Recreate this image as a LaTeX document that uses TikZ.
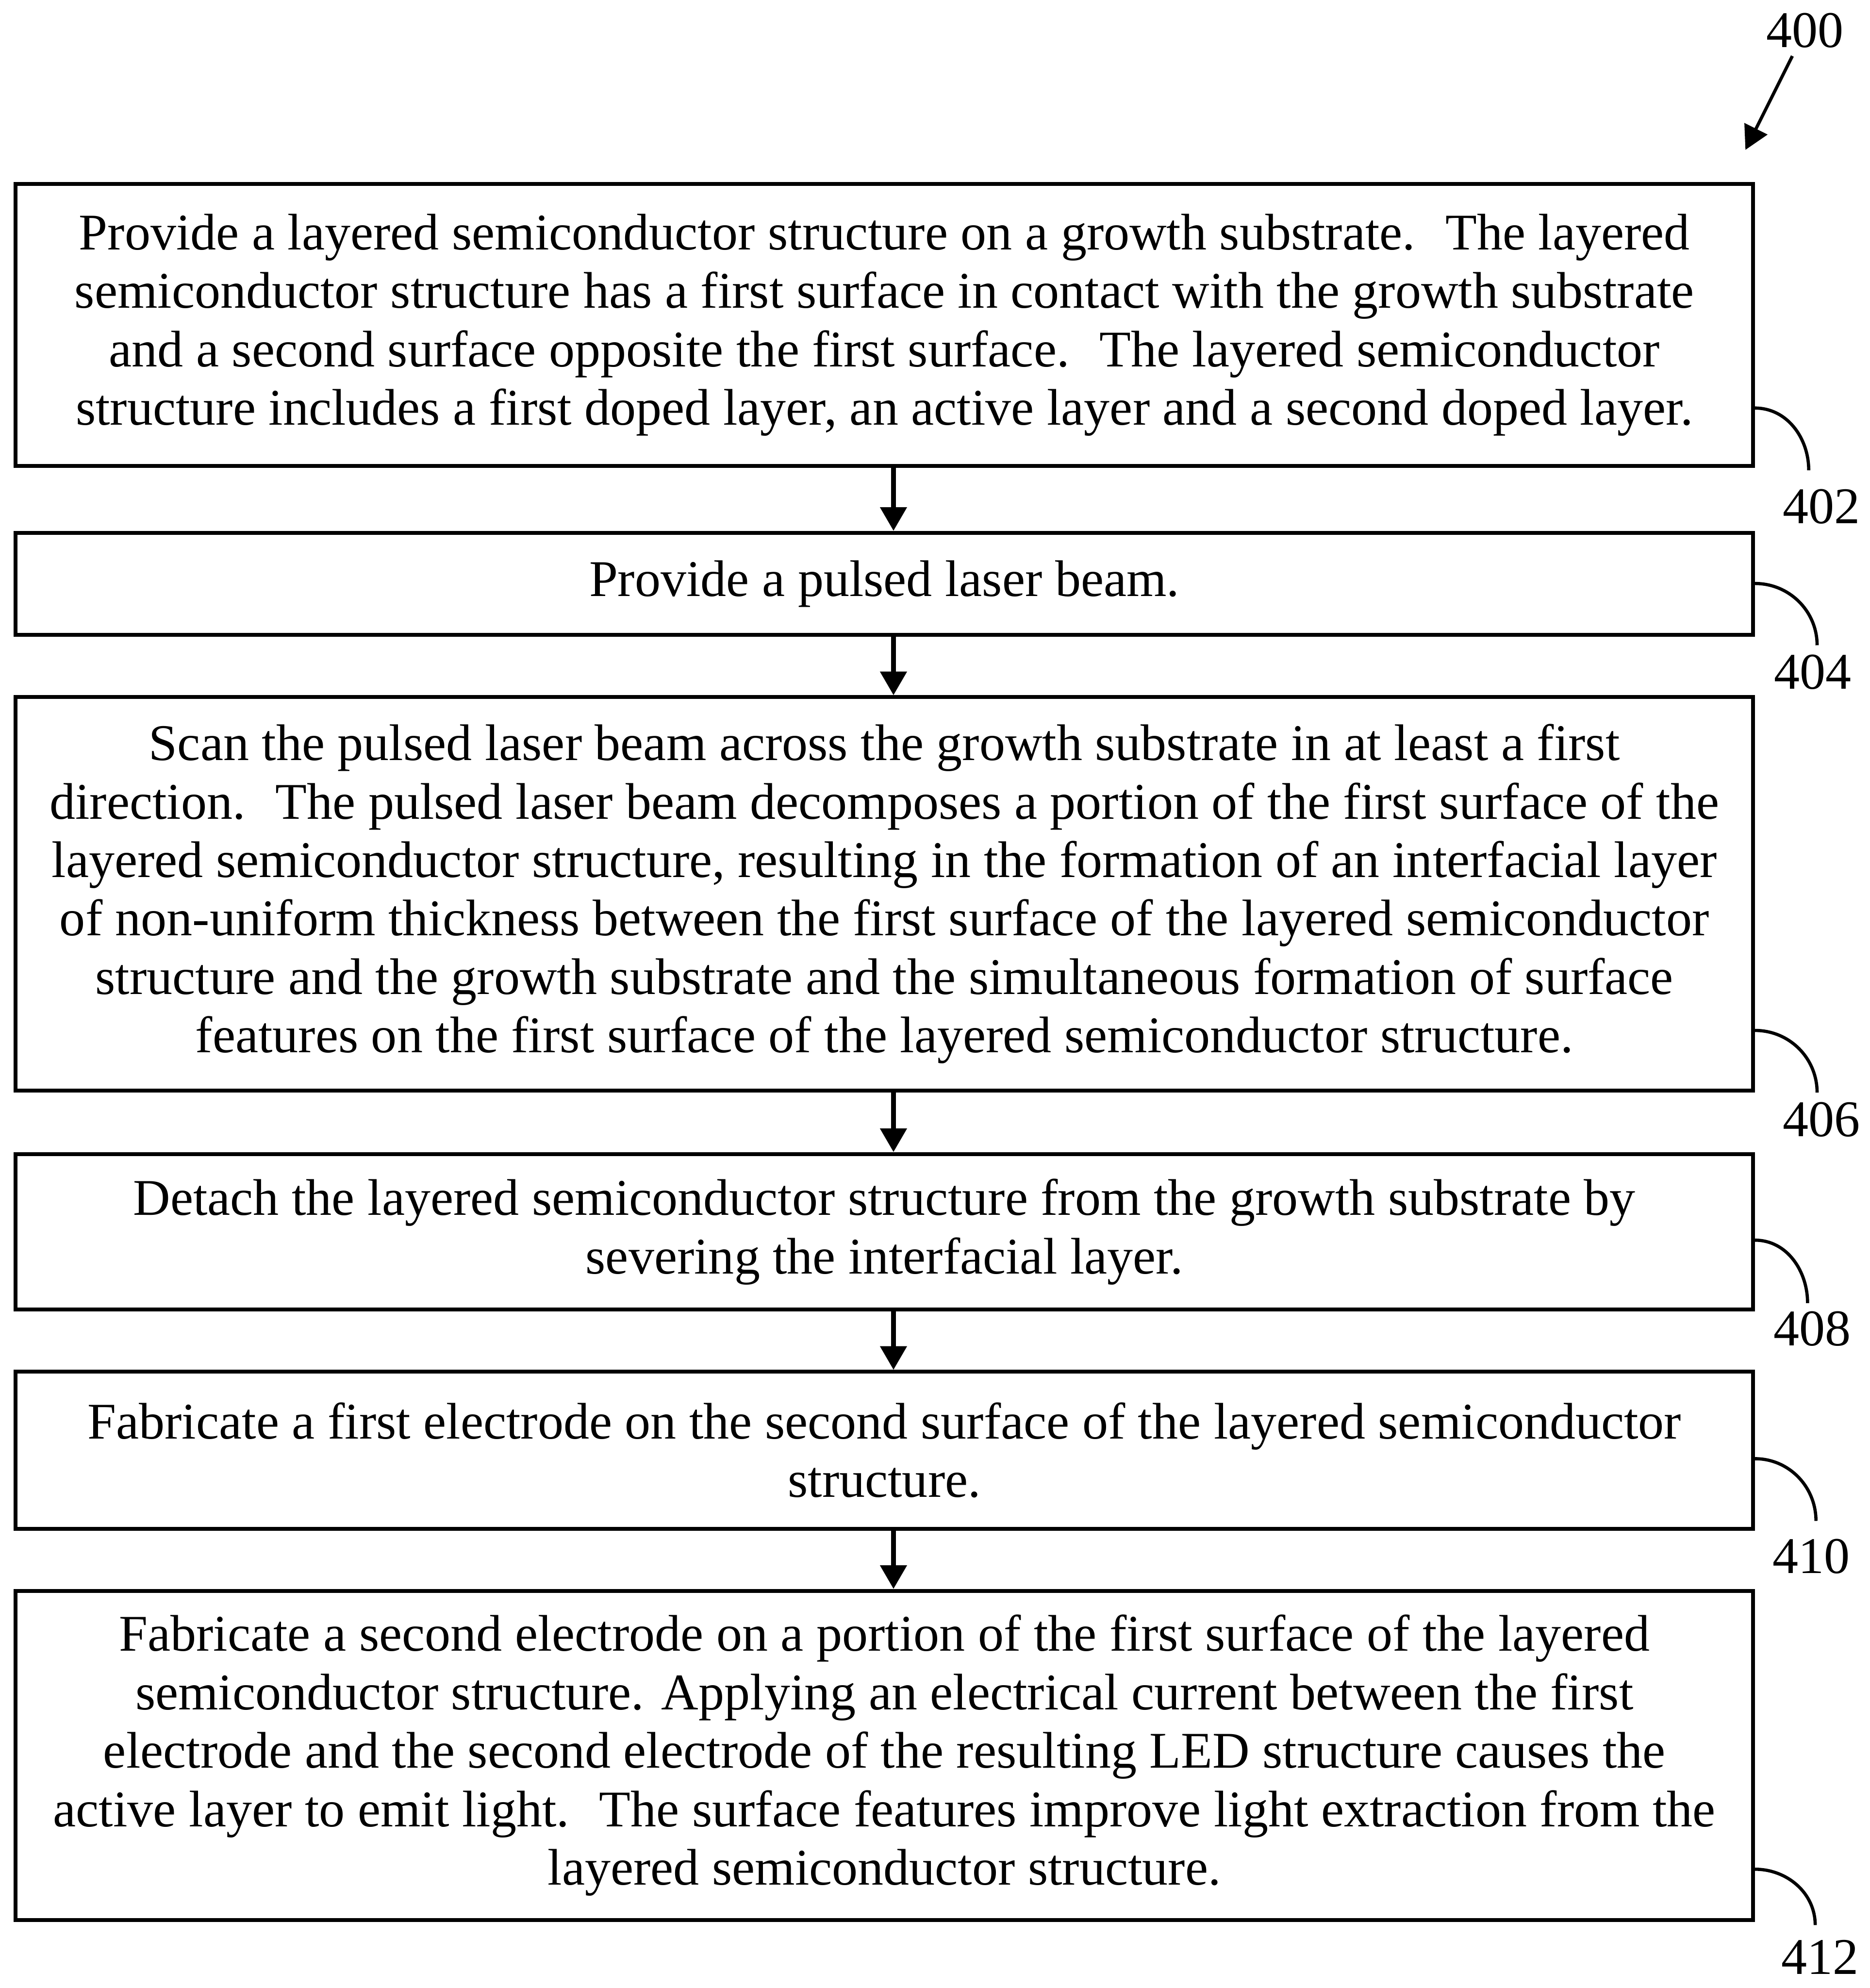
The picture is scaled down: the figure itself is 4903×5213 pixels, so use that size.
\documentclass[tikz,border=0pt]{standalone}
\usepackage{fontspec}
\setmainfont{Liberation Serif}
\usetikzlibrary{arrows.meta}

\tikzset{
  stepbox/.style={draw, line width=0.5mm, minimum width=227.8mm, align=center,
    inner sep=0pt, font=\fontsize{19.2}{21.8}\selectfont},
  flow/.style={line width=0.6mm, -{Triangle[width=3.4mm,length=3.1mm]}},
  leader/.style={line width=0.42mm},
  refnum/.style={inner sep=0pt, font=\fontsize{19.2}{21.8}\selectfont}
}

\begin{document}
\begin{tikzpicture}[x=0.05mm, y=-0.05mm]
\useasboundingbox (0,0) rectangle (4903,5213);

% the six process steps
\node[stepbox, minimum height=37mm] (provide) at (2319,852)
  {Provide a layered semiconductor structure on a growth substrate.~ The layered\\
   semiconductor structure has a first surface in contact with the growth substrate\\
   and a second surface opposite the first surface.~ The layered semiconductor\\
   structure includes a first doped layer, an active layer and a second doped layer.};
\node[stepbox, minimum height=13.4mm] (laser) at (2319,1531)
  {Provide a pulsed laser beam.};
\node[stepbox, minimum height=51.6mm] (scan) at (2319,2344)
  {Scan the pulsed laser beam across the growth substrate in at least a first\\
   direction.~ The pulsed laser beam decomposes a portion of the first surface of the\\
   layered semiconductor structure, resulting in the formation of an interfacial layer\\
   of non-uniform thickness between the first surface of the layered semiconductor\\
   structure and the growth substrate and the simultaneous formation of surface\\
   features on the first surface of the layered semiconductor structure.};
\node[stepbox, minimum height=20.4mm] (detach) at (2319,3230)
  {Detach the layered semiconductor structure from the growth substrate by\\
   severing the interfacial layer.};
\node[stepbox, minimum height=20.6mm] (elecone) at (2319,3803)
  {Fabricate a first electrode on the second surface of the layered semiconductor\\
   structure.};
\node[stepbox, minimum height=43.15mm] (electwo) at (2319,4603)
  {Fabricate a second electrode on a portion of the first surface of the layered\\
   semiconductor structure. Applying an electrical current between the first\\
   electrode and the second electrode of the resulting LED structure causes the\\
   active layer to emit light.~ The surface features improve light extraction from the\\
   layered semiconductor structure.};

\foreach \a/\b in {provide/laser, laser/scan, scan/detach, detach/elecone, elecone/electwo}
  \draw[flow] ([xshift=1.2mm]\a.south) -- ([xshift=1.2mm]\b.north);

% reference numerals
\node[refnum] (n400) at (4733,80) {400};
\coordinate (t400) at (4577,393);
\draw[leader, -{Triangle[width=3.3mm,length=3.1mm]}] ([xshift=-1.65mm,yshift=-1mm]n400.south) -- (t400);

\node[refnum] (n402) at (4777,1328) {402};
\node[refnum] (n404) at (4753,1762) {404};
\node[refnum] (n406) at (4777,2936) {406};
\node[refnum] (n408) at (4752,3484) {408};
\node[refnum] (n410) at (4750,4081) {410};
\node[refnum] (n412) at (4772,5132) {412};

\coordinate (e402) at (4743,1233);
\coordinate (e404) at (4765,1692);
\coordinate (e406) at (4765,2865);
\coordinate (e408) at (4740,3417);
\coordinate (e410) at (4762,3988);
\coordinate (e412) at (4760,5048);

\draw[leader] ([yshift=7.85mm]provide.south east) to[out=0,in=90] (e402);
\draw[leader] ([yshift=7.0mm]laser.south east) to[out=0,in=90] (e404);
\draw[leader] ([yshift=8.15mm]scan.south east) to[out=0,in=90] (e406);
\draw[leader] ([yshift=9.35mm]detach.south east) to[out=0,in=90] (e408);
\draw[leader] ([yshift=9.45mm]elecone.south east) to[out=0,in=90] (e410);
\draw[leader] ([yshift=6.9mm]electwo.south east) to[out=0,in=90] (e412);
\end{tikzpicture}
\end{document}
